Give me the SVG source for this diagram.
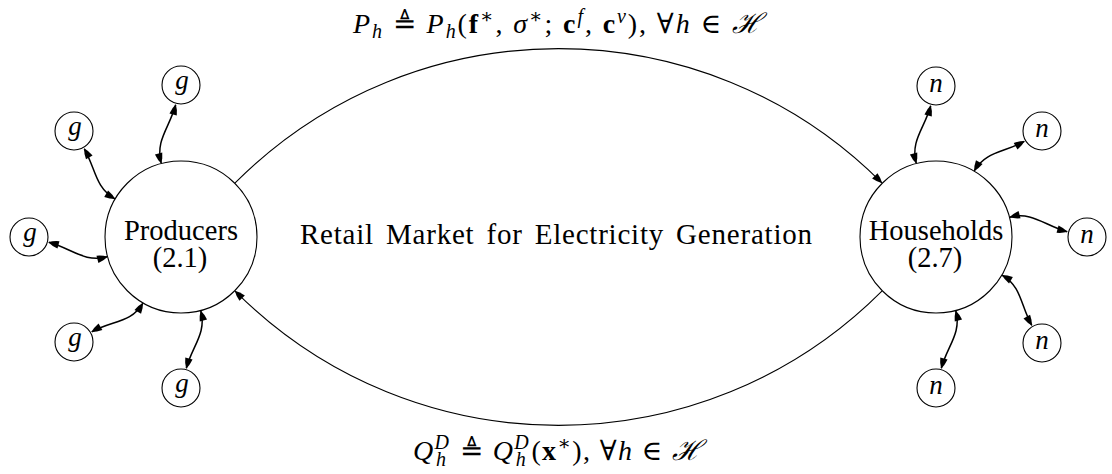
<svg xmlns="http://www.w3.org/2000/svg" width="1112" height="474" viewBox="0 0 1112 474">
<style>
.nd{fill:#fff;stroke:#000;stroke-width:1.1}
.t{font-family:"Liberation Serif","DejaVu Serif",serif;font-size:28.5px;fill:#000;text-anchor:middle}
.it{font-family:"Liberation Serif","DejaVu Serif",serif;font-size:27px;font-style:italic;fill:#000;text-anchor:middle}
.m{font-family:"Liberation Serif","DejaVu Serif",serif;font-size:28px;fill:#000;text-anchor:middle}
.i{font-style:italic}
.b{font-weight:bold}
.main{fill:none;stroke:#000;stroke-width:1.1}
.sm{fill:none;stroke:#000;stroke-width:1.5}
</style>
<defs>
<marker id="ah" viewBox="-11 -5 12 10" refX="0" refY="0" markerWidth="12" markerHeight="10" markerUnits="userSpaceOnUse" orient="auto-start-reverse">
<path d="M0.5,0 Q-4,-2.7 -10,-3.8 L-10,3.8 Q-4,2.7 0.5,0 Z" fill="#000"/>
</marker>
</defs>
<rect width="1112" height="474" fill="#fff"/>
<g id="connectors">
<path class="main" d="M235.1,182.9 C414.1,3.9 702.9,3.9 881.9,182.9" marker-end="url(#ah)"/>
<path class="main" d="M881.9,291.1 C702.9,470.1 414.1,470.1 235.1,291.1" marker-end="url(#ah)"/>
<path class="sm" d="M161.2,163.1 C155.1,140.4 169.6,127.5 175.7,104.8" marker-start="url(#ah)" marker-end="url(#ah)"/>
<path class="sm" d="M114.8,198.8 C94.9,187.3 95.7,168.6 84.3,148.8" marker-start="url(#ah)" marker-end="url(#ah)"/>
<path class="sm" d="M107.1,256.8 C84.4,262.9 71.5,248.4 48.8,242.3" marker-start="url(#ah)" marker-end="url(#ah)"/>
<path class="sm" d="M142.8,303.3 C131.3,323.1 111.6,320.3 91.8,331.8" marker-start="url(#ah)" marker-end="url(#ah)"/>
<path class="sm" d="M200.8,310.9 C206.8,333.2 192.3,345.9 186.3,368.2" marker-start="url(#ah)" marker-end="url(#ah)"/>
<path class="sm" d="M916.2,163.1 C910.2,140.8 924.7,128.2 930.7,105.8" marker-start="url(#ah)" marker-end="url(#ah)"/>
<path class="sm" d="M974.3,170.8 C985.6,151.1 1004.6,152.6 1024.3,141.3" marker-start="url(#ah)" marker-end="url(#ah)"/>
<path class="sm" d="M1009.9,217.2 C1032.2,211.2 1044.9,225.7 1067.2,231.7" marker-start="url(#ah)" marker-end="url(#ah)"/>
<path class="sm" d="M1002.3,275.3 C1021.9,286.6 1020.4,305.6 1031.8,325.3" marker-start="url(#ah)" marker-end="url(#ah)"/>
<path class="sm" d="M955.8,310.9 C961.8,333.2 947.3,345.9 941.3,368.2" marker-start="url(#ah)" marker-end="url(#ah)"/>
<text class="m" x="557.5" y="33" textLength="409" lengthAdjust="spacing"><tspan class="i">P</tspan><tspan class="i" font-size="20" dy="5">h</tspan><tspan dy="-5"> ≜ </tspan><tspan class="i">P</tspan><tspan class="i" font-size="20" dy="5">h</tspan><tspan dy="-5">(</tspan><tspan class="b">f</tspan><tspan font-size="20" dy="-10">∗</tspan><tspan dy="10">, </tspan><tspan class="i">σ</tspan><tspan font-size="20" dy="-10">∗</tspan><tspan dy="10">; </tspan><tspan class="b">c</tspan><tspan class="i" font-size="20" dy="-10">f</tspan><tspan dy="10">, </tspan><tspan class="b">c</tspan><tspan class="i" font-size="20" dy="-10">v</tspan><tspan dy="10">), ∀</tspan><tspan class="i">h</tspan><tspan> ∈ </tspan><tspan class="i">ℋ</tspan></text>
<text class="m" x="557.5" y="460" textLength="289" lengthAdjust="spacing"><tspan class="i">Q</tspan><tspan class="i" font-size="20" dy="-11">D</tspan><tspan class="i" font-size="20" dx="-14.4" dy="17">h</tspan><tspan dx="4.4" dy="-6"> ≜ </tspan><tspan class="i">Q</tspan><tspan class="i" font-size="20" dy="-11">D</tspan><tspan class="i" font-size="20" dx="-14.4" dy="17">h</tspan><tspan dx="4.4" dy="-6">(</tspan><tspan class="b">x</tspan><tspan font-size="20" dy="-10">∗</tspan><tspan dy="10">), ∀</tspan><tspan class="i">h</tspan><tspan> ∈ </tspan><tspan class="i">ℋ</tspan></text>
</g>
<g id="producers"><circle class="nd" cx="181" cy="237" r="76"/><text class="t" x="181" y="240">Producers</text><text class="t" x="180" y="267">(2.1)</text></g>
<g id="households"><circle class="nd" cx="936" cy="237" r="76"/><text class="t" x="936" y="240">Households</text><text class="t" x="935" y="267">(2.7)</text></g>
<g id="g1"><circle class="nd" cx="181" cy="85" r="19"/><text class="it" x="182" y="89">g</text></g>
<g id="g2"><circle class="nd" cx="74" cy="131" r="19"/><text class="it" x="75" y="135">g</text></g>
<g id="g3"><circle class="nd" cx="29" cy="237" r="19"/><text class="it" x="30" y="241">g</text></g>
<g id="g4"><circle class="nd" cx="74" cy="342" r="19"/><text class="it" x="75" y="346">g</text></g>
<g id="g5"><circle class="nd" cx="181" cy="388" r="19"/><text class="it" x="182" y="392">g</text></g>
<g id="n1"><circle class="nd" cx="936" cy="86" r="19"/><text class="it" x="936" y="92">n</text></g>
<g id="n2"><circle class="nd" cx="1042" cy="131" r="19"/><text class="it" x="1042" y="137">n</text></g>
<g id="n3"><circle class="nd" cx="1087" cy="237" r="19"/><text class="it" x="1087" y="243">n</text></g>
<g id="n4"><circle class="nd" cx="1042" cy="343" r="19"/><text class="it" x="1042" y="349">n</text></g>
<g id="n5"><circle class="nd" cx="936" cy="388" r="19"/><text class="it" x="936" y="394">n</text></g>
<text id="market" class="t" x="556" y="244" font-size="29" word-spacing="4" textLength="512" lengthAdjust="spacing" style="font-size:29px">Retail Market for Electricity Generation</text>
</svg>
